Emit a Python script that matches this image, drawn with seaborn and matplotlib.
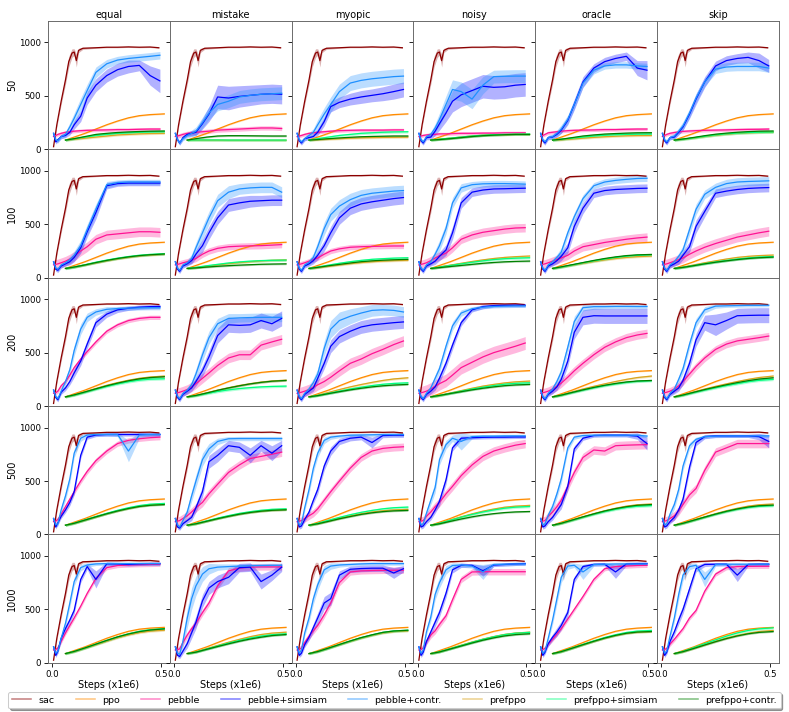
import numpy as np
import pandas as pd
import matplotlib
matplotlib.use("Agg")
import matplotlib.pyplot as plt
import seaborn as sns
from matplotlib.lines import Line2D
from matplotlib.ticker import FormatStrFormatter

ROWS = ["50", "100", "200", "500", "1000"]
COLS = ["equal", "mistake", "myopic", "noisy", "oracle", "skip"]
METHODS = ["sac", "ppo", "pebble", "pebble+simsiam", "pebble+contr.",
           "prefppo", "prefppo+simsiam", "prefppo+contr."]
COLORS = ["darkred", "darkorange", "deeppink", "blue", "dodgerblue",
          "goldenrod", "springgreen", "green"]

# x grids (steps, x1e6)
XS = [0.005, 0.02, 0.04, 0.06, 0.075, 0.09, 0.10, 0.11, 0.12, 0.14, 0.2, 0.25, 0.3, 0.35, 0.4, 0.45, 0.49]
XP = [0.005, 0.015, 0.025, 0.04, 0.06, 0.08, 0.10, 0.13, 0.16, 0.20, 0.25, 0.30, 0.35, 0.40, 0.45, 0.495]
XO = [0.06, 0.1, 0.15, 0.2, 0.25, 0.3, 0.35, 0.4, 0.45, 0.515]

SAC = [25, 230, 450, 650, 820, 900, 910, 830, 925, 945, 950, 955, 955, 958, 955, 957, 950]
SAC_SD = [5, 20, 30, 40, 50, 40, 30, 60, 20, 10, 5, 5, 5, 5, 5, 5, 5]
PPO = [87, 115, 150, 190, 230, 265, 295, 315, 325, 332]
PPO_SD = [4, 5, 5, 6, 6, 6, 6, 6, 6, 6]

SIMSIAM = [
    [[150, 70, 90, 120, 130, 160, 230, 310, 480, 600, 690, 745, 775, 785, 690, 640],
     [150, 90, 60, 110, 140, 150, 160, 240, 330, 490, 480, 495, 505, 515, 520, 515],
     [150, 80, 60, 100, 110, 120, 160, 260, 400, 440, 470, 490, 505, 520, 540, 560],
     [150, 80, 60, 110, 115, 170, 240, 340, 450, 510, 550, 590, 580, 585, 600, 607],
     [150, 80, 60, 110, 115, 140, 180, 270, 420, 630, 760, 820, 850, 870, 760, 740],
     [150, 80, 60, 110, 115, 160, 210, 330, 470, 630, 780, 830, 850, 860, 830, 780]],
    [[150, 80, 70, 110, 130, 150, 190, 280, 430, 610, 860, 880, 885, 885, 885, 885],
     [150, 80, 60, 110, 130, 160, 220, 300, 420, 560, 680, 700, 715, 720, 725, 725],
     [150, 80, 60, 110, 130, 160, 210, 300, 420, 560, 650, 690, 710, 725, 740, 750],
     [150, 80, 60, 110, 130, 155, 200, 260, 420, 700, 800, 820, 830, 832, 835, 837],
     [150, 80, 60, 110, 130, 160, 200, 280, 480, 650, 790, 815, 825, 830, 835, 837],
     [150, 80, 60, 110, 130, 155, 210, 290, 480, 620, 790, 810, 825, 835, 840, 843]],
    [[150, 80, 60, 130, 170, 230, 310, 420, 580, 780, 860, 900, 915, 925, 930, 931],
     [150, 80, 60, 110, 140, 170, 230, 330, 460, 660, 760, 755, 760, 800, 770, 820],
     [150, 80, 60, 110, 140, 170, 260, 400, 560, 650, 700, 740, 760, 770, 780, 787],
     [150, 80, 60, 110, 140, 180, 260, 400, 570, 780, 900, 930, 940, 942, 943, 943],
     [150, 80, 60, 110, 140, 180, 250, 420, 690, 830, 845, 843, 843, 843, 843, 843],
     [150, 80, 60, 110, 140, 170, 240, 400, 620, 780, 760, 800, 845, 848, 850, 850]],
    [[150, 70, 110, 170, 230, 300, 400, 740, 910, 930, 935, 935, 935, 935, 935, 935],
     [150, 70, 60, 100, 130, 160, 250, 400, 680, 740, 830, 815, 740, 830, 760, 830],
     [150, 70, 80, 140, 210, 320, 420, 640, 780, 870, 900, 910, 860, 925, 928, 928],
     [150, 70, 80, 120, 160, 230, 310, 510, 810, 900, 905, 908, 910, 910, 912, 912],
     [150, 70, 80, 120, 160, 220, 280, 450, 800, 900, 925, 928, 928, 928, 920, 850],
     [150, 70, 80, 120, 160, 230, 330, 630, 860, 915, 922, 922, 922, 922, 915, 870]],
    [[150, 70, 110, 230, 320, 400, 490, 780, 900, 780, 925, 925, 920, 925, 928, 928],
     [150, 70, 60, 110, 180, 280, 380, 580, 700, 760, 800, 890, 895, 760, 820, 895],
     [150, 70, 90, 170, 240, 330, 420, 560, 600, 820, 875, 882, 885, 885, 840, 880],
     [150, 70, 100, 200, 290, 380, 470, 650, 870, 912, 912, 860, 915, 920, 925, 928],
     [150, 70, 100, 180, 240, 290, 350, 470, 780, 900, 920, 922, 850, 925, 928, 928],
     [150, 70, 100, 200, 290, 400, 500, 690, 880, 920, 922, 922, 820, 920, 922, 922]],
]
SIMSIAM_SD = [
    [[15, 20, 20, 20, 20, 25, 40, 50, 60, 60, 60, 60, 60, 50, 90, 110],
     [15, 20, 20, 20, 20, 25, 30, 50, 70, 110, 110, 100, 95, 90, 90, 90],
     [15, 20, 20, 20, 20, 25, 30, 40, 50, 50, 55, 60, 60, 65, 70, 70],
     [15, 20, 20, 20, 25, 40, 60, 80, 100, 110, 110, 110, 110, 110, 110, 110],
     [15, 20, 20, 20, 20, 25, 30, 40, 50, 50, 40, 40, 40, 40, 70, 90],
     [15, 20, 20, 20, 20, 25, 30, 40, 50, 50, 45, 45, 45, 50, 70, 60]],
    [[15, 20, 20, 20, 20, 30, 40, 50, 50, 60, 30, 25, 25, 25, 25, 25],
     [15, 20, 20, 20, 20, 30, 40, 60, 60, 60, 60, 60, 55, 50, 50, 50],
     [15, 20, 20, 20, 20, 30, 40, 50, 60, 60, 60, 60, 60, 60, 60, 60],
     [15, 20, 20, 20, 20, 30, 40, 50, 60, 50, 40, 40, 40, 40, 40, 40],
     [15, 20, 20, 20, 20, 30, 40, 50, 60, 50, 40, 40, 40, 40, 40, 40],
     [15, 20, 20, 20, 20, 30, 40, 50, 60, 50, 40, 40, 40, 40, 40, 40]],
    [[15, 20, 20, 20, 25, 30, 40, 40, 40, 40, 30, 25, 20, 20, 20, 20],
     [15, 20, 20, 20, 25, 30, 40, 50, 60, 70, 70, 70, 70, 70, 70, 70],
     [15, 20, 20, 20, 25, 30, 40, 50, 60, 60, 60, 60, 60, 60, 60, 60],
     [15, 20, 20, 20, 25, 30, 40, 40, 40, 30, 20, 20, 15, 15, 15, 15],
     [15, 20, 20, 20, 25, 30, 40, 50, 60, 70, 70, 70, 70, 70, 70, 70],
     [15, 20, 20, 20, 25, 30, 40, 50, 60, 70, 100, 80, 70, 70, 70, 70]],
    [[15, 20, 20, 20, 25, 30, 30, 30, 20, 15, 15, 15, 15, 15, 15, 15],
     [15, 20, 20, 20, 25, 30, 40, 50, 60, 60, 50, 50, 70, 50, 70, 50],
     [15, 20, 20, 20, 25, 30, 40, 40, 40, 30, 25, 25, 50, 20, 20, 20],
     [15, 20, 20, 20, 25, 30, 40, 40, 30, 20, 15, 15, 15, 15, 15, 15],
     [15, 20, 20, 20, 25, 30, 40, 40, 30, 20, 15, 15, 15, 15, 30, 60],
     [15, 20, 20, 20, 25, 30, 40, 40, 30, 20, 15, 15, 15, 15, 30, 60]],
    [[15, 20, 20, 25, 30, 30, 30, 30, 25, 80, 20, 15, 15, 15, 15, 15],
     [15, 20, 20, 25, 40, 50, 60, 60, 60, 60, 60, 40, 40, 70, 50, 40],
     [15, 20, 20, 25, 30, 40, 50, 60, 60, 40, 30, 30, 30, 30, 50, 30],
     [15, 20, 20, 25, 30, 40, 40, 40, 30, 20, 15, 50, 15, 15, 15, 15],
     [15, 20, 20, 25, 30, 40, 40, 40, 30, 20, 15, 15, 60, 15, 15, 15],
     [15, 20, 20, 25, 30, 40, 40, 40, 30, 20, 15, 15, 60, 15, 15, 15]],
]

CONTR = [
    [[150, 90, 80, 120, 140, 210, 290, 420, 550, 720, 800, 835, 850, 860, 870, 880],
     [150, 90, 60, 100, 130, 150, 170, 250, 340, 420, 450, 490, 505, 515, 520, 525],
     [150, 90, 70, 100, 130, 160, 230, 330, 420, 540, 620, 645, 660, 670, 680, 685],
     [150, 90, 70, 120, 140, 200, 280, 420, 560, 540, 470, 600, 680, 683, 685, 685],
     [150, 90, 70, 110, 120, 150, 190, 280, 420, 620, 740, 780, 790, 790, 780, 775],
     [150, 90, 70, 110, 125, 170, 220, 340, 480, 630, 750, 770, 775, 775, 775, 760]],
    [[150, 90, 80, 120, 140, 170, 210, 300, 450, 640, 870, 890, 895, 895, 895, 895],
     [150, 90, 70, 120, 140, 180, 280, 420, 560, 720, 800, 830, 840, 845, 845, 800],
     [150, 90, 70, 120, 145, 190, 290, 460, 590, 670, 730, 770, 790, 800, 810, 815],
     [150, 90, 70, 120, 150, 220, 300, 460, 700, 840, 870, 878, 880, 880, 878, 875],
     [150, 90, 70, 120, 150, 190, 240, 420, 570, 740, 860, 895, 910, 920, 928, 930],
     [150, 90, 70, 120, 150, 200, 260, 450, 640, 780, 845, 880, 895, 900, 903, 906]],
    [[150, 90, 70, 140, 230, 340, 520, 720, 830, 880, 905, 912, 916, 918, 920, 920],
     [150, 90, 70, 120, 150, 200, 300, 480, 640, 770, 820, 825, 828, 830, 830, 830],
     [150, 90, 70, 120, 160, 220, 300, 540, 720, 800, 840, 870, 895, 900, 895, 880],
     [150, 90, 70, 120, 170, 260, 350, 560, 750, 870, 910, 925, 932, 935, 937, 937],
     [150, 90, 70, 120, 160, 230, 320, 550, 790, 920, 930, 930, 932, 932, 931, 931],
     [150, 90, 70, 120, 160, 250, 350, 580, 780, 900, 935, 938, 940, 942, 942, 943]],
    [[150, 90, 100, 230, 360, 520, 760, 900, 930, 935, 935, 935, 780, 930, 935, 935],
     [150, 90, 70, 130, 210, 360, 500, 700, 800, 870, 895, 897, 897, 897, 897, 897],
     [150, 90, 100, 250, 420, 620, 760, 880, 910, 920, 928, 930, 932, 934, 934, 934],
     [150, 90, 100, 200, 320, 440, 700, 840, 900, 870, 915, 920, 920, 922, 922, 922],
     [150, 90, 100, 180, 260, 380, 520, 810, 910, 925, 928, 928, 928, 928, 928, 920],
     [150, 90, 100, 190, 280, 420, 640, 830, 890, 915, 920, 922, 922, 922, 922, 922]],
    [[150, 90, 110, 230, 370, 560, 760, 890, 915, 925, 928, 928, 928, 928, 928, 928],
     [150, 90, 80, 200, 420, 600, 720, 830, 880, 895, 900, 905, 908, 910, 912, 912],
     [150, 90, 120, 280, 420, 600, 730, 870, 905, 915, 920, 925, 928, 928, 928, 928],
     [150, 90, 120, 290, 430, 640, 750, 870, 910, 915, 905, 850, 920, 922, 925, 925],
     [150, 90, 110, 230, 400, 600, 800, 905, 912, 850, 920, 922, 924, 925, 925, 925],
     [150, 90, 110, 250, 420, 640, 820, 900, 912, 780, 920, 922, 922, 922, 922, 922]],
]
CONTR_SD = [
    [[15, 20, 20, 20, 25, 40, 50, 60, 60, 50, 40, 35, 35, 35, 35, 35],
     [15, 20, 20, 20, 25, 30, 40, 50, 60, 60, 60, 60, 60, 60, 60, 60],
     [15, 20, 20, 20, 25, 35, 50, 60, 70, 70, 70, 70, 70, 70, 70, 70],
     [15, 20, 20, 20, 25, 40, 60, 80, 90, 90, 90, 80, 60, 60, 60, 60],
     [15, 20, 20, 20, 25, 30, 40, 40, 40, 40, 35, 30, 30, 30, 30, 30],
     [15, 20, 20, 20, 25, 30, 40, 40, 40, 40, 40, 40, 40, 40, 40, 40]],
    [[15, 20, 20, 20, 20, 30, 40, 50, 50, 50, 30, 25, 25, 25, 25, 25],
     [15, 20, 20, 20, 25, 40, 50, 60, 60, 60, 60, 50, 50, 50, 50, 50],
     [15, 20, 20, 20, 25, 40, 50, 60, 60, 60, 60, 55, 50, 50, 50, 50],
     [15, 20, 20, 20, 25, 40, 50, 50, 50, 40, 30, 30, 30, 30, 30, 30],
     [15, 20, 20, 20, 25, 30, 40, 40, 40, 35, 30, 30, 30, 30, 30, 30],
     [15, 20, 20, 20, 25, 30, 40, 50, 50, 40, 40, 40, 40, 40, 40, 40]],
    [[15, 20, 20, 25, 30, 40, 50, 50, 40, 30, 25, 20, 20, 20, 20, 20],
     [15, 20, 20, 20, 25, 35, 50, 60, 60, 50, 45, 40, 40, 40, 40, 40],
     [15, 20, 20, 20, 30, 40, 50, 70, 80, 80, 70, 60, 55, 50, 50, 50],
     [15, 20, 20, 20, 25, 35, 40, 40, 40, 30, 20, 15, 15, 15, 15, 15],
     [15, 20, 20, 20, 25, 35, 40, 50, 50, 30, 25, 20, 20, 20, 20, 20],
     [15, 20, 20, 20, 25, 35, 40, 40, 40, 30, 20, 15, 15, 15, 15, 15]],
    [[15, 20, 20, 30, 40, 40, 40, 30, 20, 15, 15, 20, 100, 30, 15, 15],
     [15, 20, 20, 30, 40, 50, 60, 60, 50, 30, 20, 20, 20, 20, 20, 20],
     [15, 20, 20, 30, 40, 40, 40, 30, 20, 15, 15, 15, 15, 15, 15, 15],
     [15, 20, 20, 30, 40, 50, 50, 40, 30, 80, 20, 15, 15, 15, 15, 15],
     [15, 20, 20, 30, 40, 40, 40, 30, 20, 15, 15, 15, 15, 15, 15, 15],
     [15, 20, 20, 30, 40, 40, 40, 30, 20, 15, 15, 15, 15, 15, 15, 15]],
    [[15, 20, 20, 30, 40, 40, 40, 30, 20, 15, 15, 15, 15, 15, 15, 15],
     [15, 20, 30, 60, 90, 100, 90, 70, 50, 30, 25, 20, 20, 20, 20, 20],
     [15, 20, 20, 30, 40, 50, 50, 40, 30, 20, 15, 15, 15, 15, 15, 15],
     [15, 20, 20, 30, 40, 50, 50, 40, 25, 20, 20, 70, 15, 15, 15, 15],
     [15, 20, 20, 30, 40, 50, 50, 30, 20, 70, 15, 15, 15, 15, 15, 15],
     [15, 20, 20, 30, 40, 50, 50, 30, 20, 70, 15, 15, 15, 15, 15, 15]],
]

PEBBLE = [
    [[120, 130, 140, 150, 160, 165, 170, 175, 178, 180, 182, 185, 185, 188, 190, 190],
     [120, 125, 130, 140, 150, 155, 160, 165, 170, 180, 185, 190, 195, 200, 200, 195],
     [120, 125, 130, 140, 150, 155, 160, 165, 170, 175, 178, 180, 180, 180, 182, 182],
     [120, 125, 130, 135, 140, 140, 145, 145, 148, 150, 150, 152, 152, 155, 155, 155],
     [120, 130, 140, 155, 160, 165, 170, 175, 178, 180, 182, 185, 185, 188, 190, 190],
     [120, 130, 140, 150, 158, 163, 168, 172, 175, 178, 180, 182, 185, 187, 188, 190]],
    [[120, 125, 130, 140, 155, 175, 200, 250, 290, 360, 400, 410, 420, 430, 430, 425],
     [120, 125, 130, 140, 150, 165, 180, 220, 250, 275, 290, 295, 298, 300, 305, 310],
     [120, 125, 130, 140, 155, 170, 185, 220, 250, 270, 285, 290, 293, 295, 297, 297],
     [120, 125, 130, 140, 160, 185, 205, 230, 280, 360, 400, 425, 440, 455, 465, 468],
     [120, 125, 130, 140, 155, 170, 185, 210, 250, 290, 310, 330, 345, 360, 372, 380],
     [120, 125, 130, 140, 155, 170, 185, 220, 250, 285, 320, 350, 380, 400, 420, 435]],
    [[120, 125, 140, 190, 230, 290, 360, 440, 510, 600, 700, 760, 800, 820, 830, 830],
     [120, 125, 130, 140, 155, 180, 210, 260, 310, 380, 450, 480, 480, 570, 600, 625],
     [120, 125, 130, 140, 155, 175, 200, 230, 270, 330, 400, 440, 490, 530, 575, 609],
     [120, 125, 130, 140, 160, 185, 210, 240, 290, 360, 410, 460, 500, 530, 560, 590],
     [120, 125, 130, 140, 160, 185, 215, 270, 330, 400, 480, 550, 600, 640, 665, 680],
     [120, 125, 130, 140, 160, 190, 230, 300, 370, 450, 530, 580, 610, 625, 640, 655]],
    [[120, 125, 140, 190, 260, 330, 400, 500, 590, 690, 780, 850, 880, 895, 905, 910],
     [120, 125, 130, 150, 175, 210, 250, 300, 380, 470, 580, 650, 710, 730, 750, 770],
     [120, 125, 130, 150, 175, 200, 240, 320, 400, 500, 620, 720, 780, 805, 815, 820],
     [120, 125, 130, 170, 210, 260, 300, 380, 450, 550, 650, 730, 780, 810, 835, 850],
     [120, 125, 130, 170, 210, 260, 320, 450, 580, 720, 790, 780, 830, 835, 838, 840],
     [120, 125, 130, 150, 175, 220, 280, 370, 430, 600, 770, 810, 850, 850, 850, 850]],
    [[120, 125, 140, 200, 280, 350, 420, 530, 650, 790, 890, 910, 915, 918, 920, 922],
     [120, 125, 130, 190, 260, 320, 370, 470, 560, 720, 860, 885, 895, 897, 897, 897],
     [120, 125, 140, 190, 250, 300, 350, 450, 560, 750, 850, 860, 863, 865, 866, 866],
     [120, 125, 140, 200, 260, 300, 360, 440, 590, 780, 850, 852, 852, 852, 852, 852],
     [120, 125, 135, 175, 220, 270, 320, 410, 500, 620, 780, 880, 900, 905, 910, 912],
     [120, 125, 135, 175, 220, 270, 320, 420, 490, 670, 830, 890, 900, 902, 903, 903]],
]
PEBBLE_SD = [
    [15, 20, 15, 15, 15, 15],
    [45, 30, 25, 40, 40, 45],
    [20, 45, 50, 60, 40, 35],
    [25, 40, 35, 40, 40, 40],
    [20, 30, 30, 30, 20, 20],
]

PREFPPO = [
    [[87, 95, 105, 115, 125, 135, 140, 145, 148, 150],
     [87, 87, 86, 86, 85, 85, 85, 85, 85, 85],
     [87, 90, 95, 100, 105, 108, 110, 112, 113, 115],
     [87, 95, 105, 115, 125, 132, 136, 138, 140, 140],
     [87, 90, 97, 105, 112, 118, 123, 127, 129, 130],
     [87, 95, 107, 120, 132, 142, 150, 155, 158, 160]],
    [[87, 100, 120, 140, 160, 178, 192, 205, 213, 220],
     [87, 95, 108, 120, 132, 142, 150, 158, 163, 167],
     [87, 95, 108, 120, 132, 142, 150, 156, 160, 163],
     [87, 100, 118, 135, 152, 167, 180, 190, 197, 203],
     [87, 100, 118, 135, 152, 167, 180, 190, 197, 203],
     [87, 100, 120, 140, 158, 175, 190, 200, 207, 212]],
    [[87, 105, 135, 165, 195, 220, 242, 260, 272, 281],
     [87, 100, 125, 150, 172, 193, 210, 225, 235, 243],
     [87, 103, 128, 155, 180, 202, 222, 240, 254, 265],
     [87, 100, 123, 145, 167, 187, 203, 217, 227, 234],
     [87, 105, 133, 160, 185, 208, 230, 250, 267, 281],
     [87, 105, 133, 160, 185, 208, 230, 250, 267, 281]],
    [[87, 105, 135, 165, 195, 222, 245, 265, 278, 285],
     [87, 100, 125, 150, 172, 192, 208, 220, 228, 234],
     [87, 102, 127, 152, 174, 194, 210, 222, 230, 235],
     [87, 105, 135, 165, 193, 218, 238, 255, 265, 272],
     [87, 105, 135, 165, 195, 222, 245, 265, 278, 285],
     [87, 105, 135, 165, 195, 222, 245, 265, 278, 285]],
    [[87, 105, 137, 170, 203, 235, 262, 283, 297, 305],
     [87, 103, 133, 163, 193, 220, 245, 265, 278, 287],
     [87, 105, 137, 170, 202, 232, 258, 280, 293, 300],
     [87, 104, 134, 165, 195, 222, 246, 266, 279, 287],
     [87, 105, 137, 170, 202, 232, 257, 277, 288, 293],
     [87, 105, 137, 170, 202, 232, 257, 277, 293, 303]],
]
PREFPPO_SIMSIAM = [
    [[87, 100, 115, 130, 140, 150, 155, 160, 163, 165],
     [87, 88, 88, 88, 87, 87, 87, 87, 87, 87],
     [87, 100, 115, 130, 140, 150, 155, 160, 163, 165],
     [87, 95, 105, 115, 125, 132, 137, 140, 142, 143],
     [87, 95, 105, 115, 125, 132, 137, 140, 142, 143],
     [87, 95, 108, 122, 135, 145, 152, 157, 160, 162]],
    [[87, 100, 122, 145, 165, 183, 198, 210, 218, 225],
     [87, 97, 112, 125, 138, 148, 155, 160, 163, 165],
     [87, 100, 118, 135, 150, 162, 172, 178, 183, 187],
     [87, 100, 115, 130, 145, 158, 170, 178, 183, 187],
     [87, 100, 120, 140, 158, 175, 190, 202, 210, 215],
     [87, 98, 115, 132, 148, 162, 175, 185, 193, 198]],
    [[87, 103, 130, 158, 185, 208, 228, 243, 252, 256],
     [87, 98, 118, 137, 152, 164, 173, 180, 184, 187],
     [87, 100, 120, 140, 160, 177, 192, 204, 212, 218],
     [87, 100, 120, 140, 160, 177, 192, 205, 213, 218],
     [87, 102, 127, 150, 172, 192, 208, 222, 232, 238],
     [87, 102, 127, 150, 172, 192, 210, 228, 241, 250]],
    [[87, 106, 137, 168, 198, 226, 250, 270, 283, 290],
     [87, 102, 128, 153, 176, 197, 213, 226, 235, 240],
     [87, 105, 133, 160, 185, 207, 225, 240, 250, 256],
     [87, 105, 133, 162, 188, 211, 230, 246, 256, 262],
     [87, 105, 133, 162, 190, 215, 236, 253, 264, 270],
     [87, 105, 133, 162, 190, 215, 236, 253, 264, 270]],
    [[87, 107, 140, 175, 210, 243, 272, 295, 310, 320],
     [87, 102, 130, 158, 185, 210, 232, 250, 263, 272],
     [87, 106, 138, 172, 205, 236, 262, 285, 298, 305],
     [87, 104, 133, 163, 192, 220, 244, 264, 277, 285],
     [87, 106, 139, 173, 206, 237, 263, 284, 297, 303],
     [87, 108, 143, 180, 215, 250, 280, 303, 318, 328]],
]
PREFPPO_CONTR = [
    [[87, 100, 120, 140, 150, 158, 163, 167, 170, 172],
     [87, 100, 115, 125, 128, 128, 127, 126, 125, 125],
     [87, 92, 100, 107, 113, 118, 121, 123, 125, 125],
     [87, 92, 100, 110, 120, 128, 133, 137, 140, 140],
     [87, 95, 110, 125, 135, 143, 148, 152, 155, 156],
     [87, 97, 112, 128, 142, 152, 160, 166, 170, 172]],
    [[87, 100, 120, 142, 162, 180, 195, 207, 215, 222],
     [87, 92, 100, 107, 113, 118, 122, 126, 128, 130],
     [87, 97, 112, 125, 138, 150, 158, 164, 168, 172],
     [87, 95, 105, 115, 125, 135, 143, 149, 153, 156],
     [87, 102, 122, 142, 162, 180, 195, 207, 214, 218],
     [87, 97, 113, 130, 145, 158, 170, 180, 187, 193]],
    [[87, 105, 133, 162, 190, 215, 237, 255, 267, 275],
     [87, 100, 123, 148, 170, 190, 208, 222, 233, 240],
     [87, 98, 117, 135, 152, 167, 180, 190, 197, 203],
     [87, 100, 118, 135, 152, 167, 180, 191, 198, 203],
     [87, 103, 128, 152, 175, 195, 212, 226, 235, 240],
     [87, 104, 130, 155, 178, 200, 220, 238, 253, 265]],
    [[87, 105, 135, 165, 194, 220, 243, 262, 273, 280],
     [87, 100, 124, 148, 170, 190, 206, 218, 226, 231],
     [87, 100, 123, 147, 168, 188, 203, 214, 221, 225],
     [87, 100, 123, 145, 165, 182, 195, 205, 211, 215],
     [87, 105, 135, 165, 193, 220, 242, 260, 273, 280],
     [87, 105, 134, 163, 191, 217, 239, 257, 269, 275]],
    [[87, 107, 140, 175, 210, 243, 270, 292, 307, 318],
     [87, 100, 127, 153, 178, 202, 223, 240, 255, 265],
     [87, 106, 138, 172, 205, 236, 262, 285, 298, 305],
     [87, 102, 130, 158, 186, 212, 234, 252, 264, 272],
     [87, 105, 137, 170, 202, 232, 257, 277, 288, 293],
     [87, 105, 135, 167, 198, 227, 252, 272, 285, 293]],
]
PREFPPO_SD = 10
PREFPPO_SIMSIAM_SD = 12
PREFPPO_CONTR_SD = 8

DPI = 75
plt.rcParams.update({
    "font.family": ["DejaVu Sans"],
    "axes.edgecolor": "#666666",
    "axes.linewidth": 0.9,
    "xtick.labelsize": 8.3,
    "ytick.labelsize": 8.3,
})

palette = dict(zip(METHODS, COLORS))
fig, axes = plt.subplots(5, 6, figsize=(789 / DPI, 712 / DPI), dpi=DPI, sharex=True, sharey=True)
fig.subplots_adjust(left=0.061, right=0.987, top=0.9705, bottom=0.069, wspace=0, hspace=0)

for r in range(5):
    for c in range(6):
        ax = axes[r, c]
        n_p = len(XP)
        n_o = len(XO)
        curves = [
            (XS, SAC, SAC_SD),
            (XO, PPO, PPO_SD),
            (XP, PEBBLE[r][c], [PEBBLE_SD[r][c]] * n_p),
            (XP, SIMSIAM[r][c], SIMSIAM_SD[r][c]),
            (XP, CONTR[r][c], CONTR_SD[r][c]),
            (XO, PREFPPO[r][c], [PREFPPO_SD] * n_o),
            (XO, PREFPPO_SIMSIAM[r][c], [PREFPPO_SIMSIAM_SD] * n_o),
            (XO, PREFPPO_CONTR[r][c], [PREFPPO_CONTR_SD] * n_o),
        ]
        frames = []
        for m, (x, y, sd) in zip(METHODS, curves):
            y_a = np.array(y, float)
            sd_a = np.array(sd, float)
            ax.fill_between(x, y_a - sd_a, y_a + sd_a, color=palette[m], alpha=0.3, lw=0)
            frames.append(pd.DataFrame({"x": x, "y": y, "method": m}))
        df = pd.concat(frames, ignore_index=True)
        sns.lineplot(data=df, x="x", y="y", hue="method", hue_order=METHODS,
                     palette=palette, estimator=None, legend=False, ax=ax, linewidth=1.2)
        ax.set_xlim(-0.02, 0.541)
        ax.set_ylim(0, 1200)
        ax.set_xticks([0.0, 0.5])
        ax.set_yticks([0, 500, 1000])
        ax.xaxis.set_major_formatter(FormatStrFormatter("%.1f"))
        ax.set_xlabel("Steps (x1e6)" if r == 4 else "", fontsize=9.2, labelpad=1)
        ax.set_ylabel(ROWS[r] if c == 0 else "", fontsize=9.2, labelpad=1.5)
        if r == 0:
            ax.set_title(COLS[c], fontsize=9.4, pad=2.5)

handles = [Line2D([0], [0], color=col, lw=1.5, alpha=0.5) for col in COLORS]
fig.legend(handles, METHODS, loc="lower center", ncol=8, bbox_to_anchor=(0.5, 0.005),
           fontsize=9.1, frameon=True, borderaxespad=0, columnspacing=2.2,
           handlelength=2.0, shadow=True)

fig.savefig("out.png", dpi=DPI)
